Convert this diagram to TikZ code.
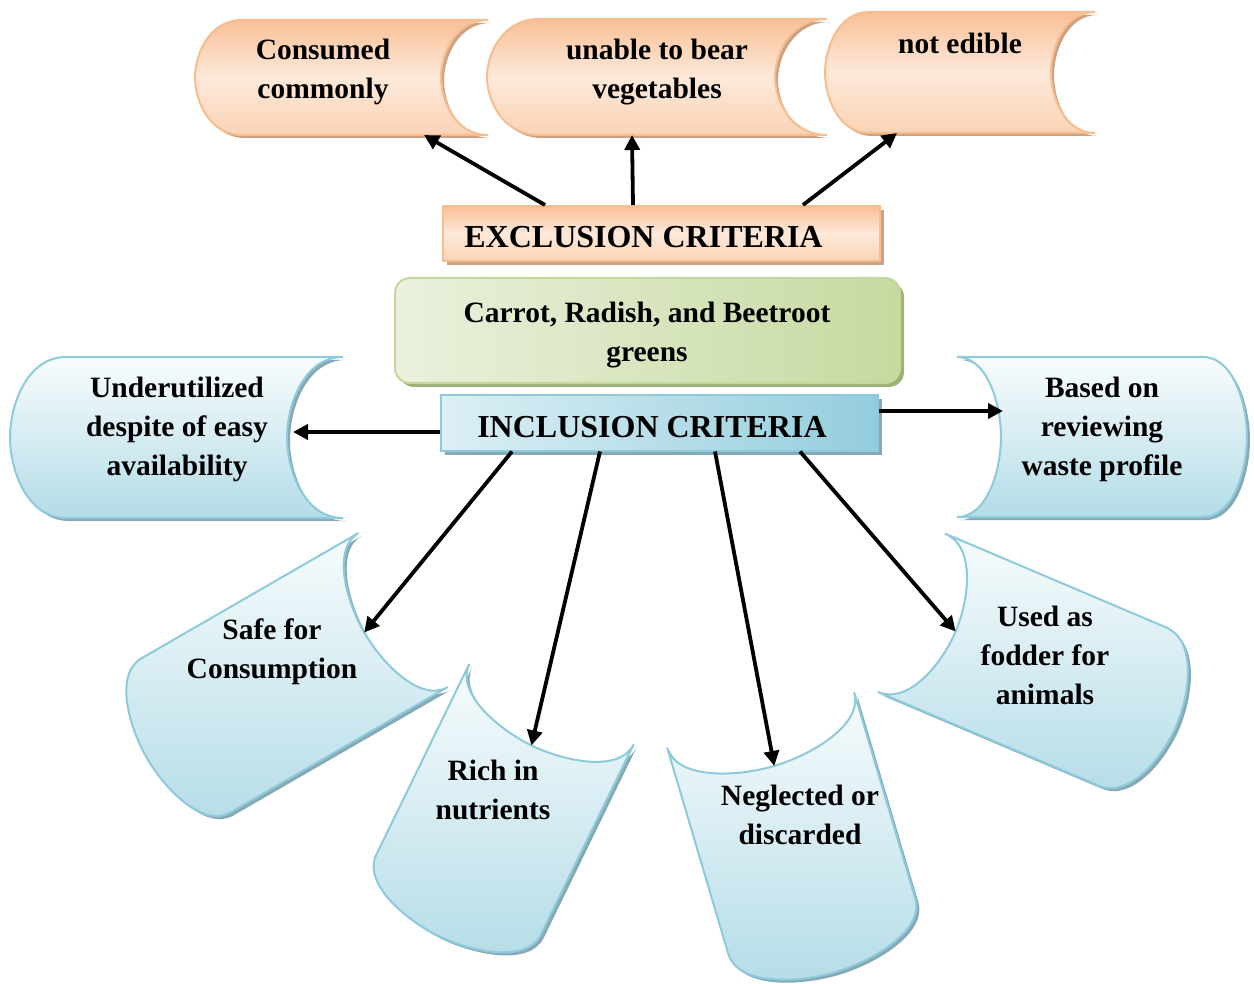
\documentclass[tikz,border=0pt]{standalone}
\usepackage{fontspec}
\setmainfont{Liberation Serif}
\usetikzlibrary{arrows.meta,shadows}

\definecolor{blueedge}{HTML}{8DCADB}
\definecolor{bluetop}{HTML}{F8FCFD}
\definecolor{bluebot}{HTML}{B4DCE7}
\definecolor{blueshade}{HTML}{86A9B5}
\definecolor{orangeedge}{HTML}{F8BD8E}
\definecolor{orangetop}{HTML}{F9C096}
\definecolor{orangemid}{HTML}{FDE9DA}
\definecolor{orangebot}{HTML}{FBD3B5}
\definecolor{orangeshade}{HTML}{CDA283}
\definecolor{greenedge}{HTML}{C4D79D}
\definecolor{greenlight}{HTML}{EAF1DD}
\definecolor{greendark}{HTML}{C6D9A0}
\definecolor{greenshade}{HTML}{9DB277}
\definecolor{inclight}{HTML}{DCEFF5}
\definecolor{incdark}{HTML}{93CDDD}

\newcommand{\labfont}{\fontsize{29.5}{39}\selectfont\bfseries}
\newcommand{\headfont}{\fontsize{32}{38}\selectfont\bfseries}

\tikzset{
    pics/stored/.style n args={4}{
        code={
            \path[#4] (-#1/2+#3,-#2/2) -- (#1/2,-#2/2)
                .. controls (#1/2-0.7*#3,-#2/2) and (#1/2-#3,-0.2*#2) .. (#1/2-#3,0)
                .. controls (#1/2-#3,0.2*#2) and (#1/2-0.7*#3,#2/2) .. (#1/2,#2/2)
                -- (-#1/2+#3,#2/2)
                .. controls (-#1/2+0.3*#3,#2/2) and (-#1/2,0.2*#2) .. (-#1/2,0)
                .. controls (-#1/2,-0.2*#2) and (-#1/2+0.3*#3,-#2/2) .. cycle;
            \coordinate (-in) at (#1/2-#3,0);
            \coordinate (-s) at (0,#2/2);
        }
    },
    blue shape/.style={draw=blueedge, line width=2pt, top color=bluetop, bottom color=bluebot},
    blue shadow/.style={fill=blueshade},
    orange shape/.style={draw=orangeedge, line width=2pt, top color=orangetop, bottom color=orangebot, middle color=orangemid},
    orange shadow/.style={fill=orangeshade},
    lab/.style={font=\labfont, align=center},
    arr/.style={line width=3.8pt, -{Triangle[length=15pt,width=15pt]}},
    crit/.style={font=\headfont, draw, line width=2pt, minimum width=437pt, minimum height=55pt, inner sep=0pt},
}

% name, centre, angle, {W}{H}{depth}, look
\newcommand{\storedat}[5]{%
    \pic[rotate=#3] at ([shift={(3,3)}]#2) {stored=#4{#5 shadow}};
    \pic[rotate=#3] (#1) at (#2) {stored=#4{#5 shape}};
}

\begin{document}
\begin{tikzpicture}[x=1pt,y=-1pt]
    \useasboundingbox (0,0) rectangle (1254,984);

    % exclusion side
    \storedat{cons}{341.5,77.5}{0}{{293}{115}{47}}{orange}
    \storedat{unab}{657,77}{0}{{340}{116}{52}}{orange}
    \storedat{noted}{960,72.5}{0}{{270}{121}{44}}{orange}

    % inclusion side
    \storedat{under}{176.5,437.5}{0}{{333}{161}{56}}{blue}
    \storedat{based}{1102,437}{180}{{290}{160}{44}}{blue}
    \storedat{safe}{275,684}{30}{{296}{178}{45}}{blue}
    \storedat{rich}{495,820}{64}{{258}{183}{46}}{blue}
    \storedat{negl}{798,846}{106.5}{{263}{195}{48}}{blue}
    \storedat{fodd}{1044,669}{157}{{288}{172}{48}}{blue}

    \node[crit, draw=orangeedge, top color=orangetop, bottom color=orangebot, middle color=orangemid,
        general shadow={fill=orangeshade, shadow xshift=4pt, shadow yshift=-4pt}]
        (excl) at (661.5,233.5) {\raisebox{-4pt}[\height][\depth]{EXCLUSION CRITERIA}\hspace*{36pt}};
    \node[draw=greenedge, line width=2pt, rounded corners=15pt, left color=greenlight, right color=greendark,
        minimum width=505pt, minimum height=105pt,
        general shadow={fill=greenshade, shadow xshift=4pt, shadow yshift=-4pt}]
        (greens) at (647.5,330.5) {};
    \node[crit, draw=blueedge, left color=inclight, right color=incdark,
        general shadow={fill=blueshade, shadow xshift=4pt, shadow yshift=-4pt}]
        (incl) at (659.5,423) {\raisebox{-4pt}[\height][\depth]{INCLUSION CRITERIA}\hspace*{15pt}};

    \node[lab] (t-greens) at (647,335) {Carrot, Radish, and Beetroot\\greens};
    \node[lab] (t-cons) at (323,72) {Consumed\\commonly};
    \node[lab] (t-unab) at (657,72) {unable to bear\\vegetables};
    \node[lab] (t-noted) at (960,43) {not edible};
    \node[lab] (t-under) at (177,429) {Underutilized\\despite of easy\\availability};
    \node[lab] (t-based) at (1102,429) {Based on\\reviewing\\waste profile};
    \node[lab] (t-safe) at (272,652) {Safe for\\Consumption};
    \node[lab] (t-rich) at (493,790) {Rich in\\nutrients};
    \node[lab] (t-negl) at (800,815) {Neglected or\\discarded};
    \node[lab] (t-fodd) at (1045,655) {Used as\\fodder for\\animals};

    \draw[arr] ([xshift=-116.5pt]excl.north) -- ([xshift=82.5pt]cons-s);
    \draw[arr] ([xshift=-28.5pt]excl.north) -- ([xshift=-25pt]unab-s);
    \draw[arr] ([xshift=141.5pt]excl.north) -- ([xshift=-63pt]noted-s);
    \draw[arr] ([yshift=-9pt]incl.west) -- ([xshift=6pt,yshift=5.5pt]under-in);
    \draw[arr] ([yshift=12pt]incl.east) -- ([xshift=2pt,yshift=26pt]based-in);
    \draw[arr] ([xshift=-147.5pt]incl.south) -- (safe-in);
    \draw[arr] ([xshift=-59.5pt]incl.south) -- (rich-in);
    \draw[arr] ([xshift=55.5pt]incl.south) -- (negl-in);
    \draw[arr] ([xshift=140.5pt]incl.south) -- (fodd-in);
\end{tikzpicture}
\end{document}
